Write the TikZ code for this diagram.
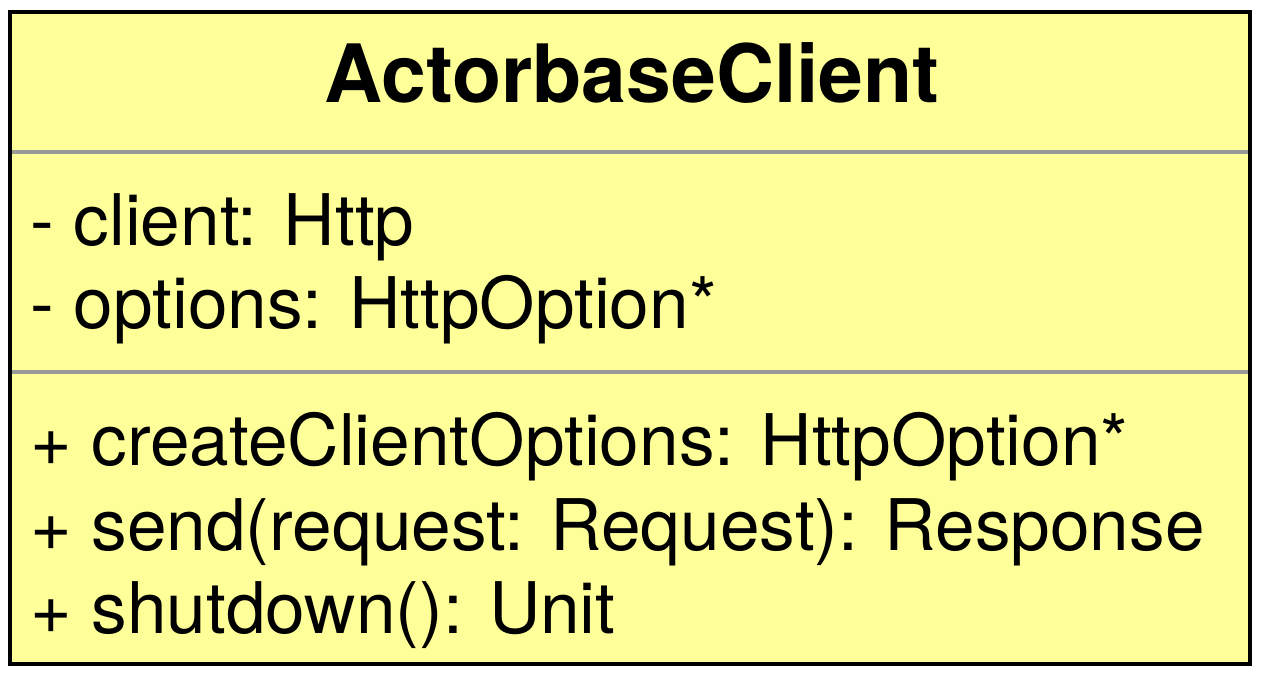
\documentclass[tikz,border=0pt]{standalone}
\usepackage{fontspec}
\setmainfont{TeX Gyre Heros}
\definecolor{umlfill}{HTML}{FFFF99}
\definecolor{umlsep}{HTML}{999999}
\begin{document}
\begin{tikzpicture}[x=1pt,y=-1pt,
  title/.style={anchor=base,inner sep=0pt,font=\fontsize{80.5}{90}\selectfont\bfseries},
  member/.style={anchor=base west,inner sep=0pt,font=\fontsize{71.2}{80}\selectfont}]
\useasboundingbox (0,0) rectangle (1262,678);
\draw[line width=4pt,fill=umlfill] (10,12) rectangle (1250,664);
\draw[umlsep,line width=3.5pt] (12,152) -- (1248,152);
\draw[umlsep,line width=3.5pt] (12,372) -- (1248,372);
\node[title] (t) at (632,102) {ActorbaseClient};
\node[member] (a1) at (30,245) {- client: Http};
\node[member] (a2) at (30,328) {- options: HttpOption*};
\node[member] (m1) at (30,465) {+ createClientOptions: HttpOption*};
\node[member] (m2) at (30,550) {+ send(request: Request): Response};
\node[member] (m3) at (30,633) {+ shutdown(): Unit};
\end{tikzpicture}
\end{document}
